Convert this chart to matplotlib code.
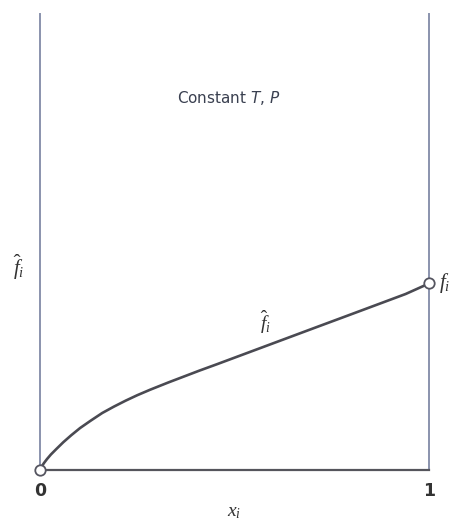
import numpy as np
import matplotlib
matplotlib.use("Agg")
import matplotlib.pyplot as plt

plt.rcParams["mathtext.fontset"] = "custom"
plt.rcParams["mathtext.it"] = "Liberation Serif:italic"
plt.rcParams["mathtext.rm"] = "Liberation Serif"
plt.rcParams["mathtext.sf"] = "DejaVu Sans:italic"

# mole fraction x_i and fugacity of i in the mixture
x_i = [0.0, 0.004, 0.01, 0.018, 0.028, 0.042, 0.06, 0.08, 0.103, 0.13,
       0.16, 0.19, 0.22, 0.25, 0.283, 0.33, 0.37, 0.41, 0.455, 0.54,
       0.625, 0.71, 0.789, 0.874, 0.94, 1.0]
f_hat = [0.0, 0.007, 0.015, 0.024, 0.034, 0.046, 0.061, 0.076, 0.092, 0.108,
         0.125, 0.139, 0.152, 0.164, 0.176, 0.192, 0.205, 0.218, 0.232, 0.259,
         0.286, 0.313, 0.338, 0.365, 0.386, 0.409]
pure_f = 0.409

fig = plt.figure(figsize=(4.56, 5.21), dpi=100)
ax = fig.add_axes([40 / 456, 51 / 521, 389 / 456, 456 / 521])

ax.plot(x_i, f_hat, color="#4a4a52", lw=1.9, solid_capstyle="round", zorder=3)
ax.plot([0, 1], [0, pure_f], ls="none", marker="o", ms=7.5, mfc="white",
        mec="#555560", mew=1.3, clip_on=False, zorder=4)

ax.set_xlim(0, 1)
ax.set_ylim(0, 1)
ax.spines["top"].set_visible(False)
for s in ["left", "right"]:
    ax.spines[s].set_color("#8a93ad")
    ax.spines[s].set_linewidth(1.4)
ax.spines["bottom"].set_color("#55555c")
ax.spines["bottom"].set_linewidth(1.6)

ax.set_xticks([0, 1])
ax.set_xticklabels(["0", "1"], fontsize=12.5, fontweight="bold", color="#333")
ax.tick_params(axis="x", length=0, pad=9)
ax.set_yticks([])

ax.text(0.5, -0.09, r"$x_i$", transform=ax.transAxes, ha="center", va="center",
        fontsize=14, color="#333")
ax.text(-0.055, 0.445, r"$\hat{f}_i$", transform=ax.transAxes, ha="center",
        va="center", fontsize=15, color="#333")
ax.text(1.04, pure_f, r"$f_i$", transform=ax.transAxes, ha="center",
        va="center", fontsize=15, color="#333")
ax.text(0.58, 0.325, r"$\hat{f}_i$", transform=ax.transAxes, ha="center",
        va="center", fontsize=14, color="#333")
ax.text(0.485, 0.815, r"Constant $\mathsf{T}$, $\mathsf{P}$", transform=ax.transAxes,
        ha="center", va="center", fontsize=11, color="#3a4050")

fig.savefig("out.png", dpi=100)
